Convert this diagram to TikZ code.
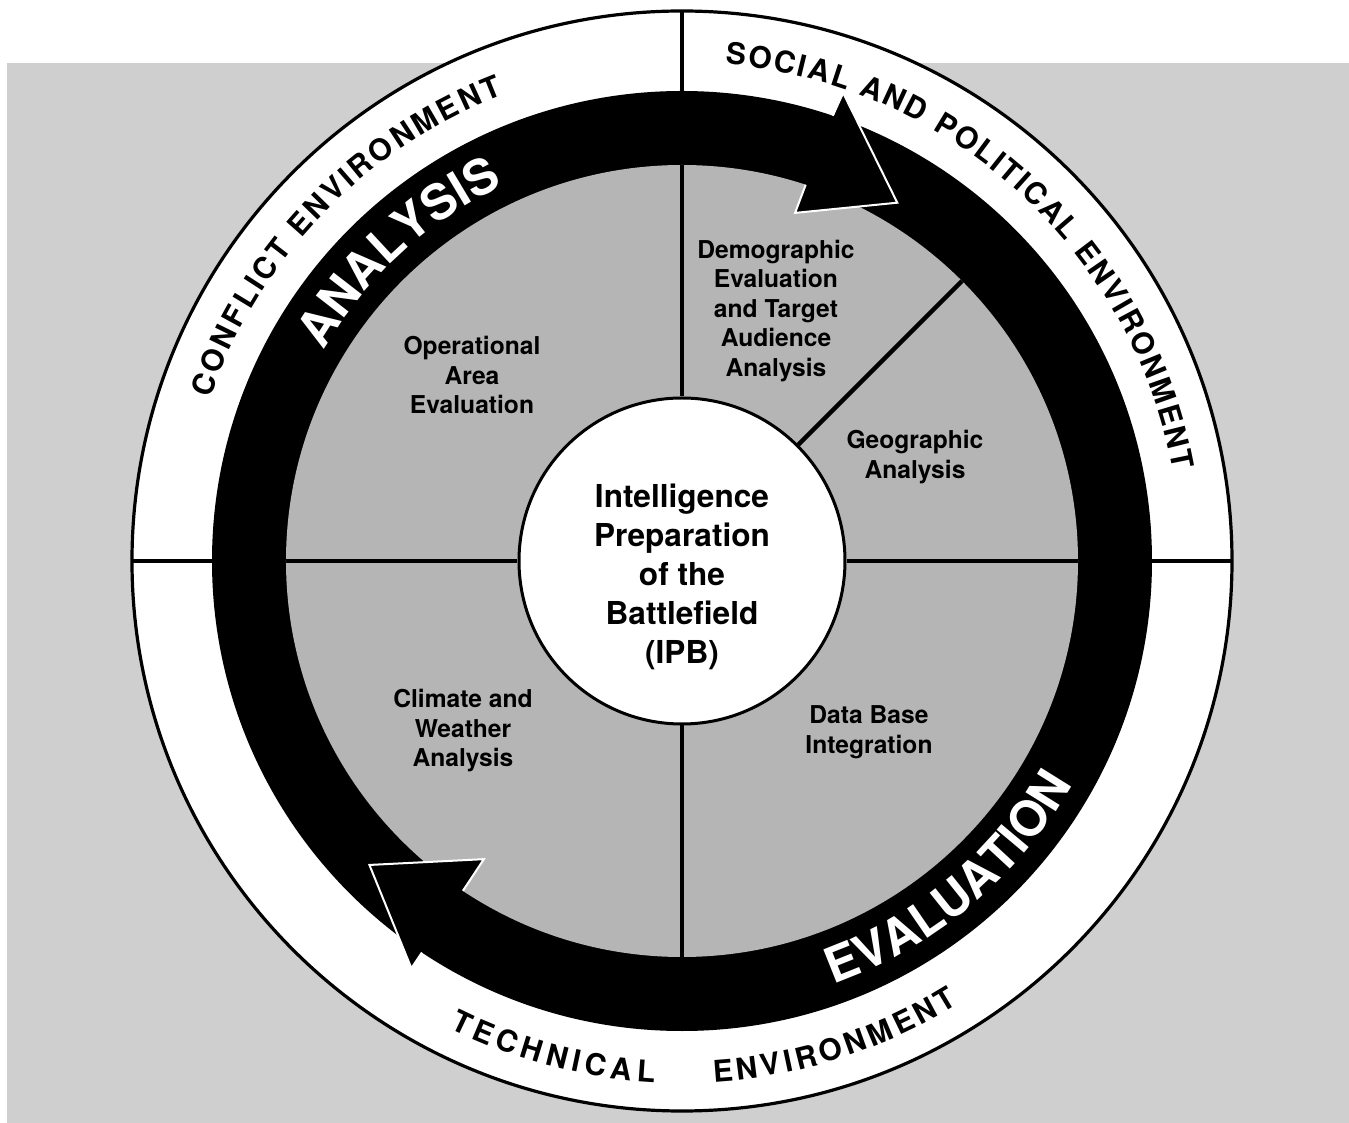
\documentclass[tikz,border=0pt]{standalone}
\usepackage{fontspec}
\setmainfont{TeX Gyre Heros}
\usetikzlibrary{decorations.text}
\definecolor{ipbPaper}{gray}{0.81}
\definecolor{ipbDisk}{gray}{0.71}
\newcommand{\ipbSector}{\fontsize{12.3}{14.75}\selectfont\bfseries}
\newcommand{\ipbCenter}{\fontsize{15.8}{19.5}\selectfont\bfseries}
\newcommand{\ipbRing}{\fontsize{15}{15}\selectfont\bfseries}
\newcommand{\ipbBand}{\fontsize{24.5}{24.5}\selectfont\bfseries}
\tikzset{
  sep line/.style={line width=2.2pt},
  hub/.style={circle, draw, fill=white, line width=1.5pt, minimum size=163pt, inner sep=0pt},
  sector label/.style={align=center, inner sep=0pt, font=\ipbSector},
  head edge/.style={draw=white, line width=1pt, line join=miter},
  ring text/.style={decorate, decoration={text along path, text align=fit to path, text={|\ipbRing|#1}}},
  band text/.style={decorate, decoration={text along path, text align=center, text color=white, text={|\ipbBand|#1}}},
}

\begin{document}
\begin{tikzpicture}[x=0.5pt,y=0.5pt]
\useasboundingbox (-682,-562) rectangle (667,561);
\fill[white] (-682,-562) rectangle (667,561);
\fill[ipbPaper] (-675,-562) rectangle (667,498);
\filldraw[fill=white, line width=1.6pt] (0,0) circle (550);
\fill[black] (0,0) circle (470);
\fill[ipbDisk] (0,0) circle (396);
\node[hub] (hub) at (0,0) {};
\draw[sep line] (90:470) -- (90:550);
\draw[sep line] (180:470) -- (180:550);
\draw[sep line] (0:470) -- (0:550);
\draw[sep line] (hub.north) -- (90:396);
\draw[sep line] (hub.south) -- (270:396);
\draw[sep line] (hub.west) -- (180:396);
\draw[sep line] (hub.east) -- (0:396);
\draw[sep line] (hub.45) -- (45:396);
\fill[black] (71:495) -- (59:418) -- (72:366) -- cycle;
\draw[head edge] (71.3:470) -- (71:495) -- (59:418) -- (72:366) -- (71.8:396);
\fill[black] (236.4:489) -- (224.2:436) -- (236.4:358) -- cycle;
\draw[head edge] (236.4:470) -- (236.4:489) -- (224.2:436) -- (236.4:358) -- (236.4:396);
\node[font=\ipbCenter, align=center, inner sep=0pt] (ipb) at (0,-16) {Intelligence\\Preparation\\of the\\Battlefield\\(IPB)};
\node[sector label] (opArea) at (-210,186) {Operational\\Area\\Evaluation};
\node[sector label] (demographic) at (94,250) {Demographic\\Evaluation\\and Target\\Audience\\Analysis};
\node[sector label] (geographic) at (233,104) {Geographic\\Analysis};
\node[sector label] (climate) at (-219,-170) {Climate and\\Weather\\Analysis};
\node[sector label] (database) at (187,-171) {Data Base\\Integration};
\path[band text=ANALYSIS] (165:416) arc (165:100:416);
\path[band text=EVALUATION] (277.5:450) arc (277.5:342.5:450);
\path[ring text=CONFLICT ENVIRONMENT] (161:499) arc (161:111:499);
\path[ring text=SOCIAL AND POLITICAL ENVIRONMENT] (85:499) arc (85:10.5:499);
\path[ring text=TECHNICAL] (243.5:522) arc (243.5:267:522);
\path[ring text=ENVIRONMENT] (273.5:522) arc (273.5:302:522);
\end{tikzpicture}
\end{document}
